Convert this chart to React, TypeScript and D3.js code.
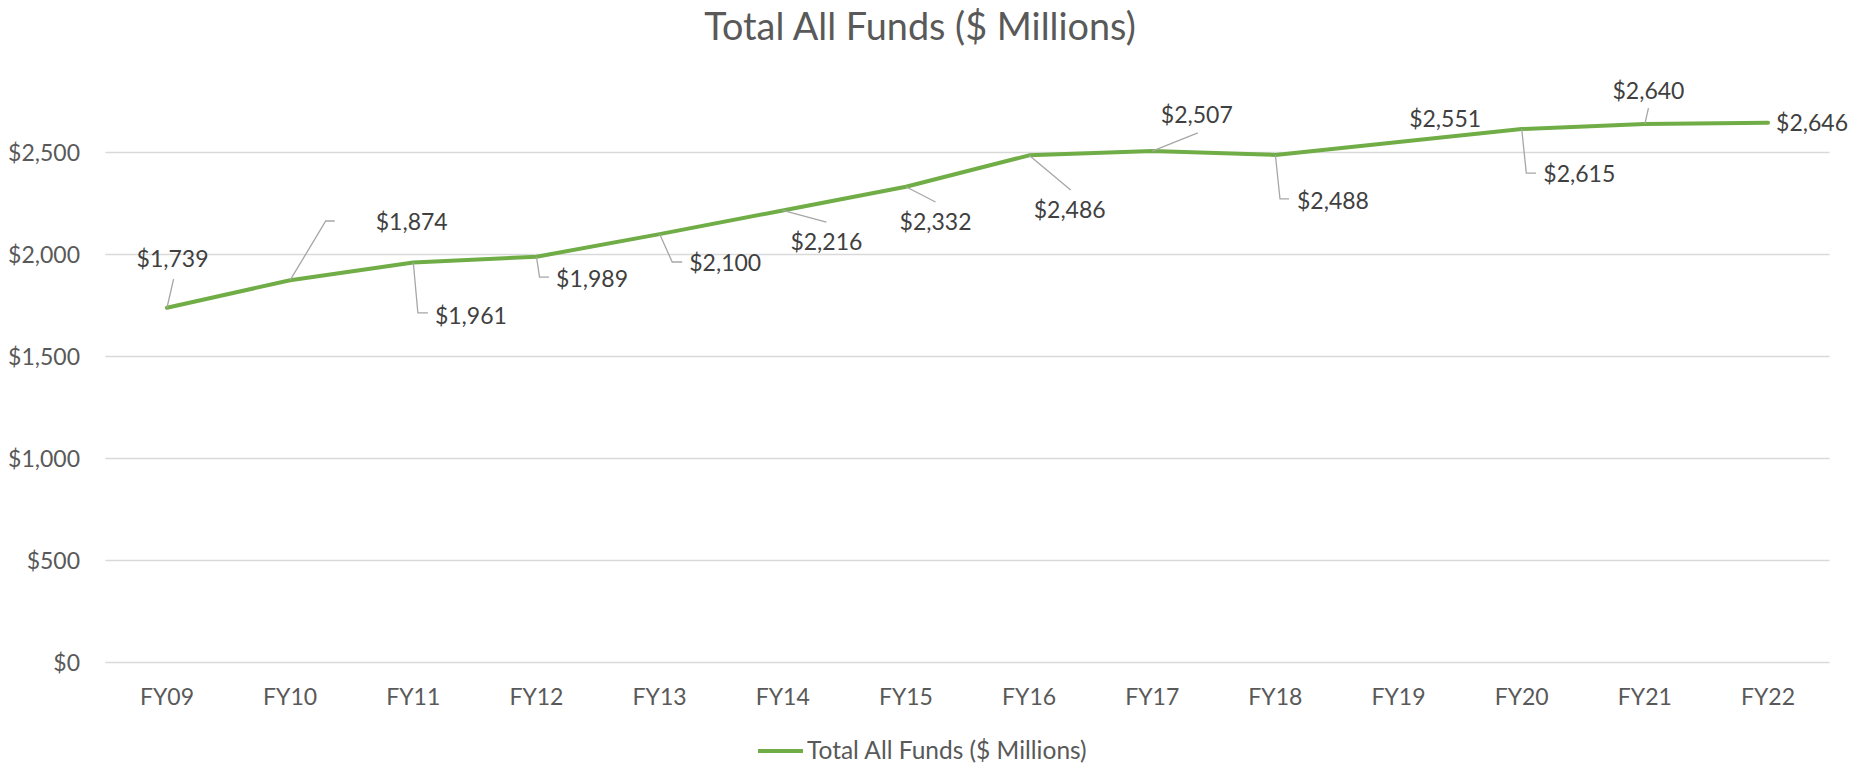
import React from "react";
import * as d3 from "d3";

const categories = ["FY09", "FY10", "FY11", "FY12", "FY13", "FY14", "FY15", "FY16", "FY17", "FY18", "FY19", "FY20", "FY21", "FY22"];
const totalAllFunds = [1739, 1874, 1961, 1989, 2100, 2216, 2332, 2486, 2507, 2488, 2551, 2615, 2640, 2646];
const yTicks = [0, 500, 1000, 1500, 2000, 2500];
const seriesName = "Total All Funds ($ Millions)";
const chartTitle = "Total All Funds ($ Millions)";

// label placement (center offset from point) and leader line vertices relative to label center
const labelOffsets: [number, number][] = [
  [5.6, -48.7], [121.6, -58.2], [57.6, 53.5], [55.6, 22.3], [65.6, 28.9], [43.6, 31.6], [29.6, 35.2],
  [40.6, 54.2], [44.6, -36.6], [57.6, 46], [46.6, -23], [57.6, 45], [3.6, -33.4], [44, 0.3],
];
const leaderPaths: [number, number][][] = [
  [[1, 20]],
  [[-86, -1], [-77, -1]],
  [[-53, -3], [-43, -3]],
  [[-52.5, -2], [-43, -2]],
  [[-53, -1], [-43, -1]],
  [[0, -20]],
  [[0, -20]],
  [[1, -19.5]],
  [[1, 18.5]],
  [[-53, -2], [-44, -2]],
  [],
  [[-53, -1], [-43.3, -1]],
  [[0, 17.5]],
  [],
];

const W = 1850;
const H = 764;
const FONT = "Lato, 'Open Sans', sans-serif";

export default function App() {
  const x = d3.scaleBand<string>().domain(categories).range([105.4, 1829.6]).paddingInner(0).paddingOuter(0);
  const y = d3.scaleLinear().domain([0, 2500]).range([662.5, 152.5]);
  const cx = (c: string) => (x(c) as number) + x.bandwidth() / 2;

  const line = d3
    .line<number>()
    .x((_, i) => cx(categories[i]))
    .y((d) => y(d));

  const leaderLine = d3.line<[number, number]>().x((d) => d[0]).y((d) => d[1]);

  return (
    <svg width={W} height={H} style={{ position: "absolute", left: 0, top: 0, background: "#fff" }} fontFamily={FONT}>
      <rect x={0} y={0} width={W} height={H} fill="#ffffff" />
      <text x={920} y={40} textAnchor="middle" fontSize={37.8} fill="#595959">
        {chartTitle}
      </text>
      {yTicks.map((t) => (
        <g key={t}>
          <line x1={105.4} x2={1829.6} y1={y(t)} y2={y(t)} stroke="#d9d9d9" strokeWidth={1.5} />
          <text x={80} y={y(t)} dy="0.36em" textAnchor="end" fontSize={23} fill="#595959">
            {d3.format("$,")(t)}
          </text>
        </g>
      ))}
      {categories.map((c) => (
        <text key={c} x={cx(c)} y={705} textAnchor="middle" fontSize={23} fill="#595959">
          {c}
        </text>
      ))}
      <path d={line(totalAllFunds) || ""} fill="none" stroke="#70ad47" strokeWidth={4} strokeLinejoin="round" strokeLinecap="round" />
      {totalAllFunds.map((v, i) => {
        const px = cx(categories[i]);
        const py = y(v);
        const lx = px + labelOffsets[i][0];
        const ly = py + labelOffsets[i][1];
        const pts: [number, number][] = [[px, py], ...leaderPaths[i].map((p) => [lx + p[0], ly + p[1]] as [number, number])];
        return (
          <g key={i}>
            {leaderPaths[i].length > 0 && (
              <path d={leaderLine(pts) || ""} fill="none" stroke="#a6a6a6" strokeWidth={1.3} />
            )}
            <text x={lx} y={ly} dy="0.36em" textAnchor="middle" fontSize={23} fill="#404040">
              {d3.format("$,")(v)}
            </text>
          </g>
        );
      })}
      <line x1={758} x2={803} y1={751} y2={751} stroke="#70ad47" strokeWidth={4} />
      <text x={807} y={759} fontSize={24.5} fill="#595959">
        {seriesName}
      </text>
    </svg>
  );
}
